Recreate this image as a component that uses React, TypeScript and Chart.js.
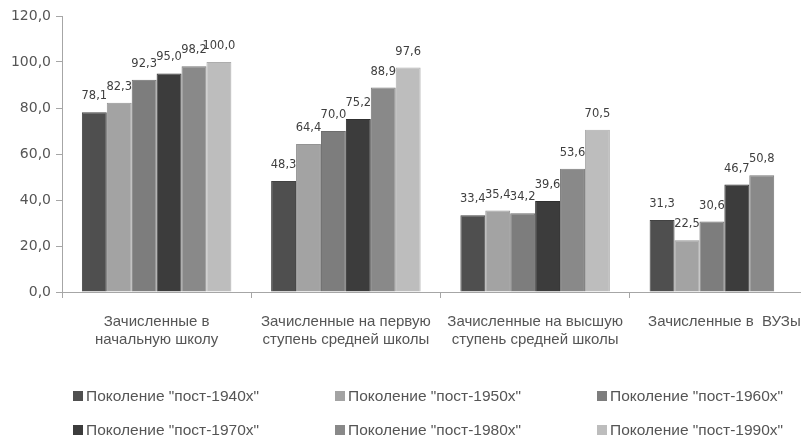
import React, { useEffect, useRef } from "react";
import { Chart, registerables } from "chart.js";

Chart.register(...registerables);

// ---- data ----
const categories: string[][] = [
  ["Зачисленные в", "начальную школу"],
  ["Зачисленные на первую", "ступень средней школы"],
  ["Зачисленные на высшую", "ступень средней школы"],
  ["Зачисленные в  ВУЗы"],
];

const seriesNames = [
  'Поколение "пост-1940х"',
  'Поколение "пост-1950х"',
  'Поколение "пост-1960х"',
  'Поколение "пост-1970х"',
  'Поколение "пост-1980х"',
  'Поколение "пост-1990х"',
];

const post1940 = [78.1, 48.3, 33.4, 31.3];
const post1950 = [82.3, 64.4, 35.4, 22.5];
const post1960 = [92.3, 70.0, 34.2, 30.6];
const post1970 = [95.0, 75.2, 39.6, 46.7];
const post1980 = [98.2, 88.9, 53.6, 50.8];
const post1990 = [100.0, 97.6, 70.5, null];

const yTicks = [0, 20, 40, 60, 80, 100, 120];

// ---- styles ----
const fills = ["#4f4f4f", "#a3a3a3", "#7d7d7d", "#3c3c3c", "#898989", "#bdbdbd"];
const borders = ["#424242", "#939393", "#6d6d6d", "#303030", "#797979", "#adadad"];
const textColor = "#555555";
const axisColor = "#a6a6a6";

const fmt = (v: number) => v.toFixed(1).replace(".", ",");

const dataLabelPlugin = {
  id: "dataLabels",
  afterDatasetsDraw(chart: any) {
    const ctx = chart.ctx;
    ctx.save();
    ctx.font = '11.5px "DejaVu Sans", sans-serif';
    ctx.fillStyle = "#3f3f3f";
    ctx.textAlign = "center";
    ctx.textBaseline = "middle";
    chart.data.datasets.forEach((ds: any, i: number) => {
      const meta = chart.getDatasetMeta(i);
      meta.data.forEach((bar: any, j: number) => {
        const v = ds.data[j];
        if (v == null) return;
        ctx.fillText(fmt(v), bar.x, bar.y - 16);
      });
    });
    ctx.restore();
  },
};

const legendPlugin = {
  id: "gridLegend",
  afterDraw(chart: any) {
    const ctx = chart.ctx;
    ctx.save();
    ctx.font = '15.5px "Liberation Sans", Arial, sans-serif';
    ctx.textBaseline = "middle";
    ctx.textAlign = "left";
    const colX = [73, 335, 597];
    const rowY = [396, 430];
    chart.data.datasets.forEach((ds: any, i: number) => {
      const x = colX[i % 3];
      const y = rowY[Math.floor(i / 3)];
      ctx.fillStyle = ds.backgroundColor;
      ctx.fillRect(x, y - 5, 10, 10);
      ctx.fillStyle = textColor;
      ctx.fillText(ds.label, x + 13, y + 1);
    });
    ctx.restore();
  },
};

export default function App() {
  const ref = useRef<HTMLCanvasElement | null>(null);

  useEffect(() => {
    document.body.style.overflow = "hidden";
    document.documentElement.style.overflow = "hidden";
    const canvas = ref.current;
    if (!canvas) return;
    const values = [post1940, post1950, post1960, post1970, post1980, post1990];
    const chart = new Chart(canvas, {
      type: "bar",
      data: {
        labels: categories,
        datasets: values.map((d, i) => ({
          label: seriesNames[i],
          data: d,
          backgroundColor: fills[i],
          borderColor: borders[i],
          borderWidth: 1,
          categoryPercentage: 0.79,
          barPercentage: 1.0,
        })),
      },
      options: {
        responsive: false,
        animation: false,
        layout: { padding: { top: 16, left: 0, right: 11, bottom: 0 } },
        plugins: {
          legend: { display: false },
          tooltip: { enabled: false },
        },
        scales: {
          x: {
            afterFit: (s: any) => {
              s.height = 151;
            },
            grid: {
              offset: true,
              drawOnChartArea: false,
              drawTicks: true,
              tickLength: 6,
              color: axisColor,
            },
            border: { color: axisColor },
            ticks: {
              color: textColor,
              font: { family: '"Liberation Sans", Arial, sans-serif', size: 15, lineHeight: 1.2 },
              padding: 15,
              maxRotation: 0,
              autoSkip: false,
            },
          },
          y: {
            min: yTicks[0],
            max: yTicks[yTicks.length - 1],
            afterFit: (s: any) => {
              s.width = 62;
            },
            afterBuildTicks: (s: any) => {
              s.ticks = yTicks.map((v) => ({ value: v }));
            },
            grid: {
              drawOnChartArea: false,
              drawTicks: true,
              tickLength: 6,
              color: axisColor,
            },
            border: { color: axisColor },
            ticks: {
              color: textColor,
              font: { family: '"DejaVu Sans", sans-serif', size: 14 },
              padding: 5,
              callback: (v: any) => fmt(Number(v)),
            },
          },
        },
      },
      plugins: [dataLabelPlugin, legendPlugin],
    });
    return () => chart.destroy();
  }, []);

  return (
    <div
      style={{
        position: "fixed",
        left: 0,
        top: 0,
        width: 830,
        height: 443,
        background: "#ffffff",
      }}
    >
      <canvas ref={ref} width={830} height={443} style={{ display: "block" }} />
    </div>
  );
}
